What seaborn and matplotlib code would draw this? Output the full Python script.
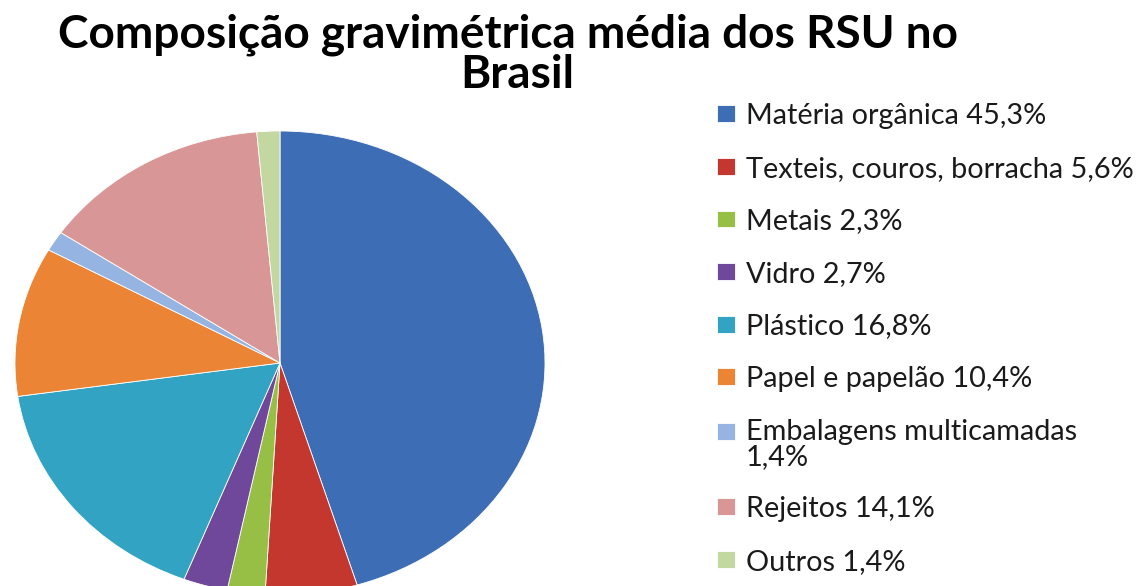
import matplotlib
matplotlib.use("Agg")
import matplotlib.pyplot as plt
import seaborn as sns

# ---- data ----
categories = ["Matéria orgânica", "Texteis, couros, borracha", "Metais", "Vidro",
              "Plástico", "Papel e papelão", "Embalagens multicamadas",
              "Rejeitos", "Outros"]
values = [45.3, 5.6, 2.3, 2.7, 16.8, 10.4, 1.4, 14.1, 1.4]
legend_labels = ["Matéria orgânica 45,3%", "Texteis, couros, borracha 5,6%",
                 "Metais 2,3%", "Vidro 2,7%", "Plástico 16,8%",
                 "Papel e papelão 10,4%", "Embalagens multicamadas\n1,4%",
                 "Rejeitos 14,1%", "Outros 1,4%"]
colors = ["#3D6DB5", "#C3372F", "#98BF45", "#70489B", "#33A3C4",
          "#EB8434", "#96B4E1", "#D99696", "#C3D7A0"]
title_line1 = "Composição gravimétrica média dos RSU no"
title_line2 = "Brasil"

sns.set_theme(style="white")
sns.set_palette(colors)
plt.rcParams['font.family'] = ['Lato', 'DejaVu Sans']

W, H = 1147, 586
fig = plt.figure(figsize=(W / 100, H / 100), dpi=100)
fig.patch.set_facecolor("white")
renderer = fig.canvas.get_renderer()


def fit_size(text, target_px, weight="normal", base=20.0):
    t = fig.text(0, 0, text, fontsize=base, fontweight=weight)
    w = t.get_window_extent(renderer).width
    t.remove()
    return base * target_px / w


# ---- pie (elliptical, as in the reference) ----
cx, cy, rx, ry = 280, 363, 265, 232
ax = fig.add_axes([(cx - rx) / W, (H - cy - ry) / H, 2 * rx / W, 2 * ry / H])
wedges, _ = ax.pie(values, colors=sns.color_palette(colors), startangle=90,
                   counterclock=False, radius=1.0,
                   wedgeprops=dict(edgecolor="white", linewidth=0.6))
ax.set_aspect("auto")
ax.set_xlim(-1, 1)
ax.set_ylim(-1, 1)
ax.axis("off")

# ---- title ----
fs_title = fit_size(title_line1, 900, weight="bold")
fig.text(508 / W, 1 - 47 / H, title_line1, ha="center", va="baseline",
         fontsize=fs_title, fontweight="bold", color="black")
fig.text(517 / W, 1 - 88 / H, title_line2, ha="center", va="baseline",
         fontsize=fs_title, fontweight="bold", color="black")

# ---- legend ----
fs_leg = fit_size("Texteis, couros, borracha 5,6%", 389)
fs_px = fs_leg * 100 / 72
t = fig.text(0, 0, "Matéria orgânica 45,3%", fontsize=fs_leg)
bb = t.get_window_extent(renderer)
t.remove()
row_h = bb.height
pitch = 52.6
leg = fig.legend(wedges, legend_labels, loc="upper left",
                 bbox_to_anchor=(717 / W, 1 - 103 / H),
                 bbox_transform=fig.transFigure, frameon=False,
                 fontsize=fs_leg, borderpad=0, borderaxespad=0,
                 handlelength=18 / fs_px, handleheight=15 / fs_px,
                 handletextpad=11 / fs_px,
                 labelspacing=(pitch - row_h) / fs_px)
for txt in leg.get_texts():
    txt.set_color("#1a1a1a")
    txt.set_linespacing(0.95)

# align the square of the two-line entry with its first line
multi = legend_labels.index("Embalagens multicamadas\n1,4%")
h = leg.legend_handles[multi]
h.set_y(h.get_y() + 13 * 72 / 100)

fig.savefig("out.png", dpi=100, facecolor="white")
